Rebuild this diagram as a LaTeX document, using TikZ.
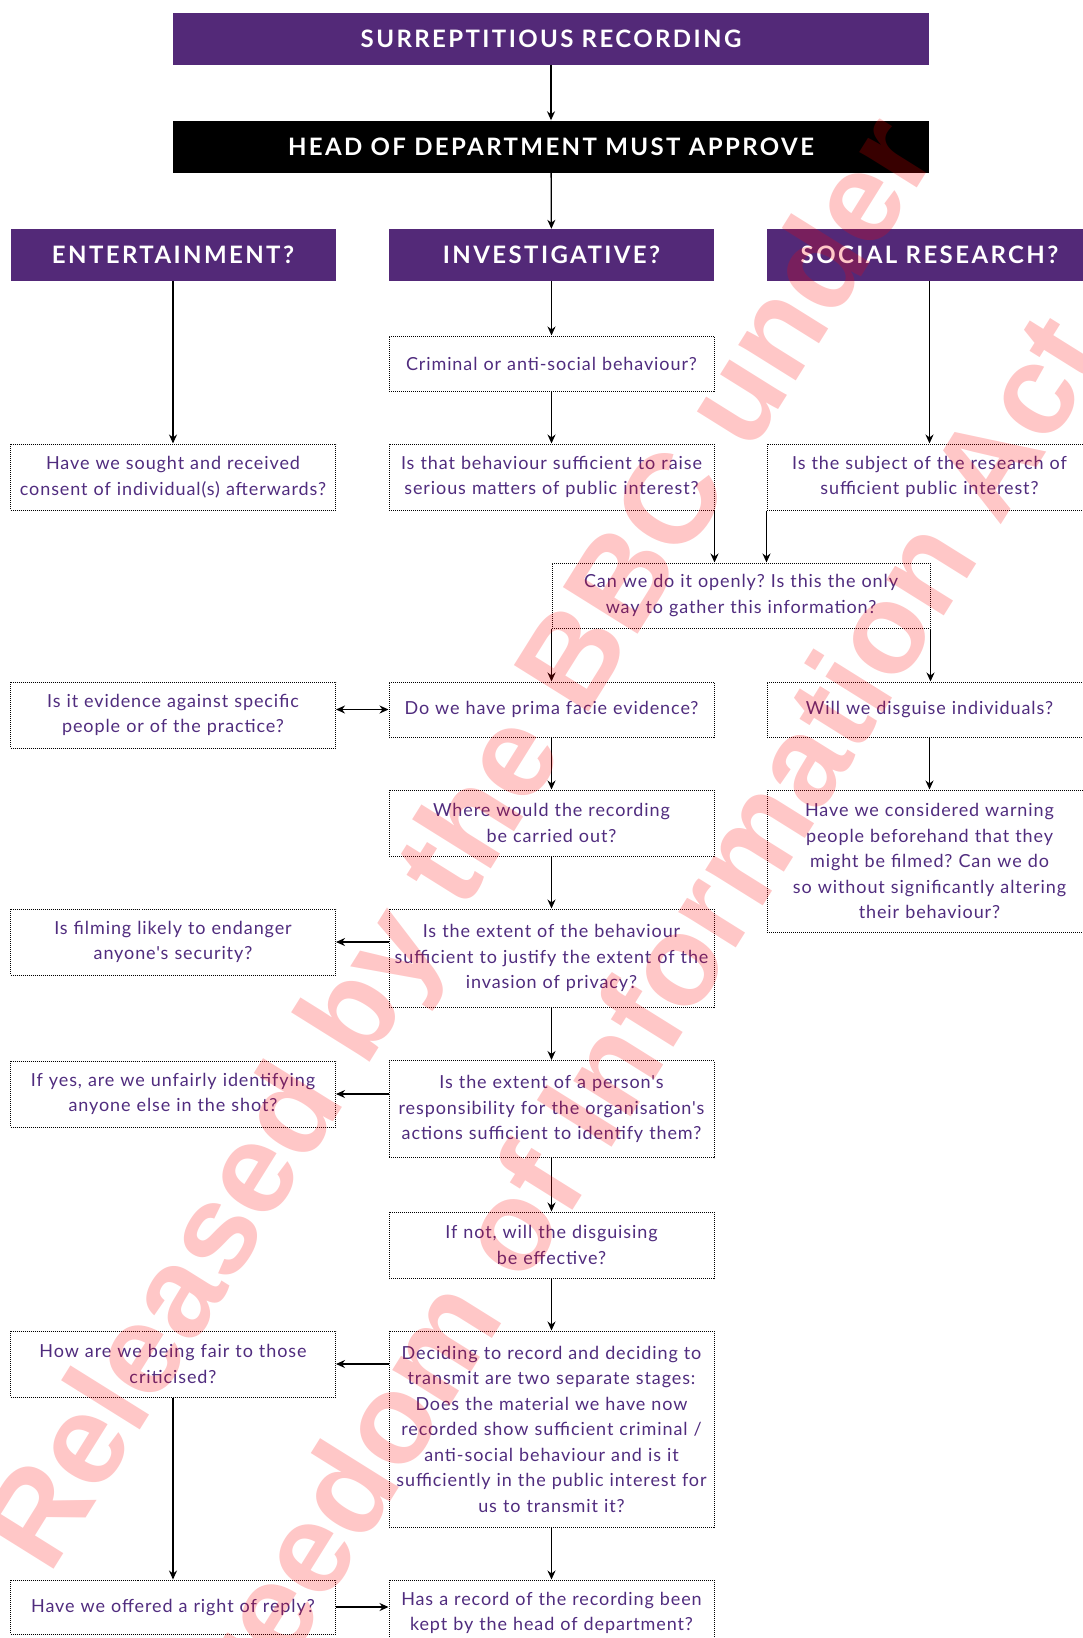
\documentclass[tikz,border=0pt]{standalone}
\usepackage{fontspec}
\setmainfont{Lato}
\newfontfamily\headfont{Lato}[LetterSpace=10]
\newfontfamily\bodyfont{Lato}[LetterSpace=5]
\newfontfamily\markfont{Liberation Sans}
\usetikzlibrary{arrows.meta}

\definecolor{bbcpurple}{RGB}{83,41,120}
\definecolor{qpurple}{RGB}{80,44,126}

\begin{document}
\frenchspacing
\begin{tikzpicture}[x=1pt,y=-1pt,
    banner/.style={fill=bbcpurple, text=white, inner sep=0,
      font=\headfont\bfseries\fontsize{24}{28}\selectfont,
      minimum width=325, minimum height=52},
    question/.style={draw=black, densely dotted, line width=1, text=qpurple,
      align=center, inner xsep=2.5, inner ysep=0, text width=320,
      font=\bodyfont\fontsize{18}{25.5}\selectfont},
    arr/.style={-{Stealth[length=9,width=8]}, line width=1.3},
    wmark/.style={text=red, text opacity=0.22, rotate=58,
      font=\markfont\bfseries\fontsize{128}{128}\selectfont}]

  \useasboundingbox (0,0) rectangle (1083,1638);

  \node[banner, minimum width=756] (title) at (551,38.75) {SURREPTITIOUS RECORDING};
  \node[banner, minimum width=756, fill=black] (head) at (551,146.5) {HEAD OF DEPARTMENT MUST APPROVE};
  \node[banner] (ent) at (173,255)   {ENTERTAINMENT?};
  \node[banner] (inv) at (551.5,255) {INVESTIGATIVE?};
  \node[banner] (soc) at (929.5,255) {SOCIAL RESEARCH?};

  \node[question, minimum height=55] (crim) at (551.5,363.5) {Criminal or anti-social behaviour?};
  \node[question, minimum height=66] (consent) at (173,477) {Have we sought and received\\consent of individual(s) afterwards?};
  \node[question, minimum height=66] (raise) at (551.5,477) {Is that behaviour sufficient to raise\\serious matters of public interest?};
  \node[question, minimum height=66] (subject) at (929.5,477) {Is the subject of the research of\\sufficient public interest?};
  \node[question, minimum height=65, text width=373] (openly) at (741,595.5) {Can we do it openly? Is this the only\\way to gather this information?};
  \node[question, minimum height=66] (evid) at (173,715) {Is it evidence against specific\\people or of the practice?};
  \node[question, minimum height=55] (prima) at (551.5,709.5) {Do we have prima facie evidence?};
  \node[question, minimum height=55] (disguise) at (929.5,709.5) {Will we disguise individuals?};
  \node[question, minimum height=66] (where) at (551.5,823) {Where would the recording\\be carried out?};
  \node[question, minimum height=142] (warn) at (929.5,861) {Have we considered warning\\people beforehand that they\\might be filmed? Can we do\\so without significantly altering\\their behaviour?};
  \node[question, minimum height=66] (filming) at (173,942) {Is filming likely to endanger\\anyone's security?};
  \node[question, minimum height=98] (behav) at (551.5,958) {Is the extent of the behaviour\\sufficient to justify the extent of the\\invasion of privacy?};
  \node[question, minimum height=66] (ifyes) at (173,1094) {If yes, are we unfairly identifying\\anyone else in the shot?};
  \node[question, minimum height=97] (person) at (551.5,1109) {Is the extent of a person's\\responsibility for the organisation's\\actions sufficient to identify them?};
  \node[question, minimum height=66] (ifnot) at (551.5,1245) {If not, will the disguising\\be effective?};
  \node[question, minimum height=66] (fair) at (173,1364) {How are we being fair to those\\criticised?};
  \node[question, minimum height=196] (decide) at (551.5,1429) {Deciding to record and deciding to\\transmit are two separate stages:\\Does the material we have now\\recorded show sufficient criminal /\\anti-social behaviour and is it\\sufficiently in the public interest for\\us to transmit it?};
  \node[question, minimum height=54] (reply) at (173,1607) {Have we offered a right of reply?};
  \node[question, minimum height=66] (record) at (551.5,1613) {Has a record of the recording been\\kept by the head of department?};

  \draw[arr] (title) -- (head);
  \draw[arr] (head) -- (inv);
  \draw[arr] (ent) -- (consent);
  \draw[arr] (inv) -- (crim);
  \draw[arr] (soc) -- (subject);
  \draw[arr] (crim) -- (raise);
  \draw[arr] (raise.south east) -- (raise.south east |- openly.north);
  \draw[arr] (subject.south west) -- (subject.south west |- openly.north);
  \draw[arr] (openly.south west) -- (openly.south west |- prima.north);
  \draw[arr] (openly.south east) -- (openly.south east |- disguise.north);
  \draw[arr, {Stealth[length=9,width=8]}-{Stealth[length=9,width=8]}] (prima.west -| evid.east) -- (prima.west);
  \draw[arr] (prima) -- (where);
  \draw[arr] (disguise) -- (warn);
  \draw[arr] (where) -- (behav);
  \draw[arr] (filming.east -| behav.west) -- (filming.east);
  \draw[arr] (behav) -- (person);
  \draw[arr] (ifyes.east -| person.west) -- (ifyes.east);
  \draw[arr] (person) -- (ifnot);
  \draw[arr] (ifnot) -- (decide);
  \draw[arr] (fair.east -| decide.west) -- (fair.east);
  \draw[arr] (fair) -- (reply);
  \draw[arr] (decide) -- (record);
  \draw[arr] (reply.east) -- (reply.east -| record.west);

  \node[wmark] (wm1) at (466,847) {Released by the BBC under};
  \node[wmark] (wm2) at (565,1136) {the Freedom of Information Act};

\end{tikzpicture}
\end{document}
